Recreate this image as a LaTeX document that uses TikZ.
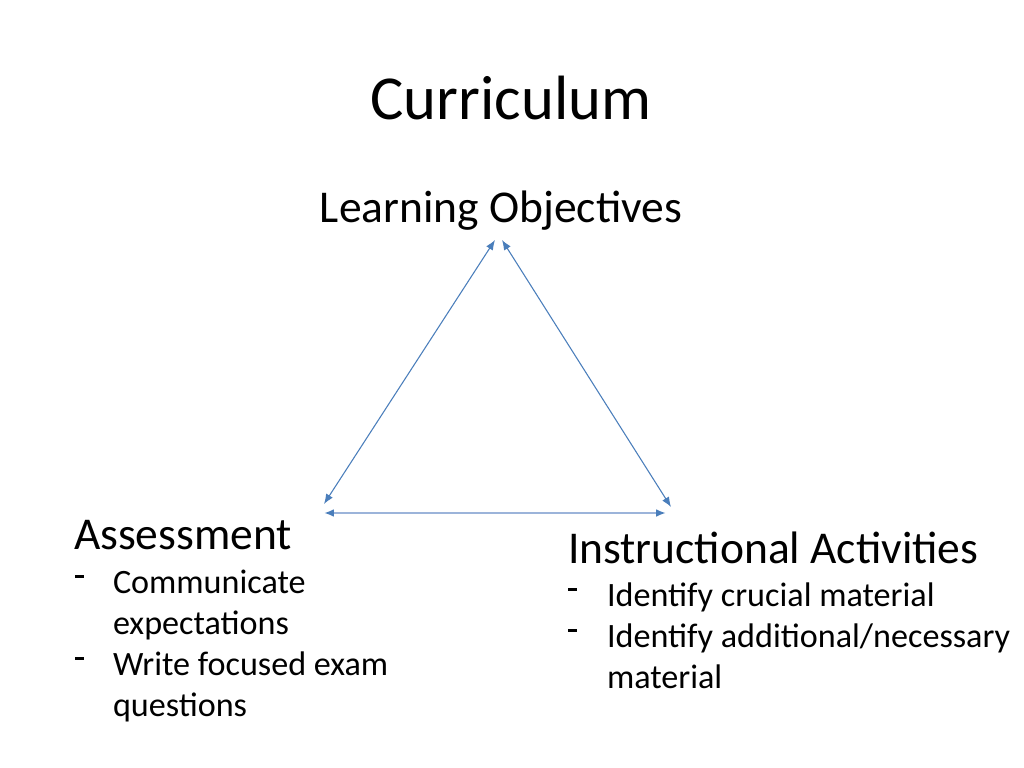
\documentclass[tikz,border=0pt]{standalone}
\usepackage{fontspec}
\setmainfont{Carlito}
\usetikzlibrary{arrows.meta}
\definecolor{arrowblue}{HTML}{4A7EBB}
\definecolor{lightblue}{HTML}{9CB4DA}
\newcommand{\dashmark}{\raisebox{10.2pt}{\rule{6.4pt}{2.2pt}}}
\begin{document}
\begin{tikzpicture}[x=0.703125pt,y=-0.703125pt,
  txt/.style={inner sep=0pt,outer sep=0pt,anchor=base west},
  ctxt/.style={inner sep=0pt,outer sep=0pt,anchor=base},
  titlefont/.style={font=\fontsize{44}{52}\selectfont},
  headfont/.style={font=\fontsize{32}{38}\selectfont},
  itemfont/.style={font=\fontsize{24}{29}\selectfont},
  link/.style={draw=arrowblue,line width=0.75pt,
    {Latex[length=7pt,width=5.5pt]}-{Latex[length=7pt,width=5.5pt]}},
  blink/.style={draw=lightblue,line width=1.4pt,
    {Latex[length=7pt,width=5.5pt,color=arrowblue]}-{Latex[length=7pt,width=5.5pt,color=arrowblue]}}]
\useasboundingbox[fill=white] (0,0) rectangle (1024,768);
\node[ctxt,titlefont] (title) at (511,120) {Curriculum};
\node[ctxt,headfont] (lo) at (501,223) {Learning Objectives};
\node[txt,headfont] (as) at (74,549) {Assessment};
\node[txt,itemfont] (asd1) at (75,593) {\dashmark};
\node[txt,itemfont] (as1) at (113,593) {Communicate};
\node[txt,itemfont] (as1b) at (113,634) {expectations};
\node[txt,itemfont] (asd2) at (75,675) {\dashmark};
\node[txt,itemfont] (as2) at (113,675) {Write focused exam};
\node[txt,itemfont] (as2b) at (113,716) {questions};
\node[txt,headfont] (ia) at (568,563) {Instructional Activities};
\node[txt,itemfont] (iad1) at (568,606) {\dashmark};
\node[txt,itemfont] (ia1) at (607,606) {Identify crucial material};
\node[txt,itemfont] (iad2) at (568,647) {\dashmark};
\node[txt,itemfont] (ia2) at (607,647) {Identify additional/necessary};
\node[txt,itemfont] (ia2b) at (607,688) {material};
\coordinate (tl) at (495,240);
\coordinate (tr) at (502,240);
\coordinate (bl) at (324,504);
\coordinate (br) at (671,507);
\coordinate (hl) at (324,513);
\coordinate (hr) at (666,513);
\draw[link] (tl) -- (bl);
\draw[link] (tr) -- (br);
\draw[blink] (hl) -- (hr);
\end{tikzpicture}
\end{document}
